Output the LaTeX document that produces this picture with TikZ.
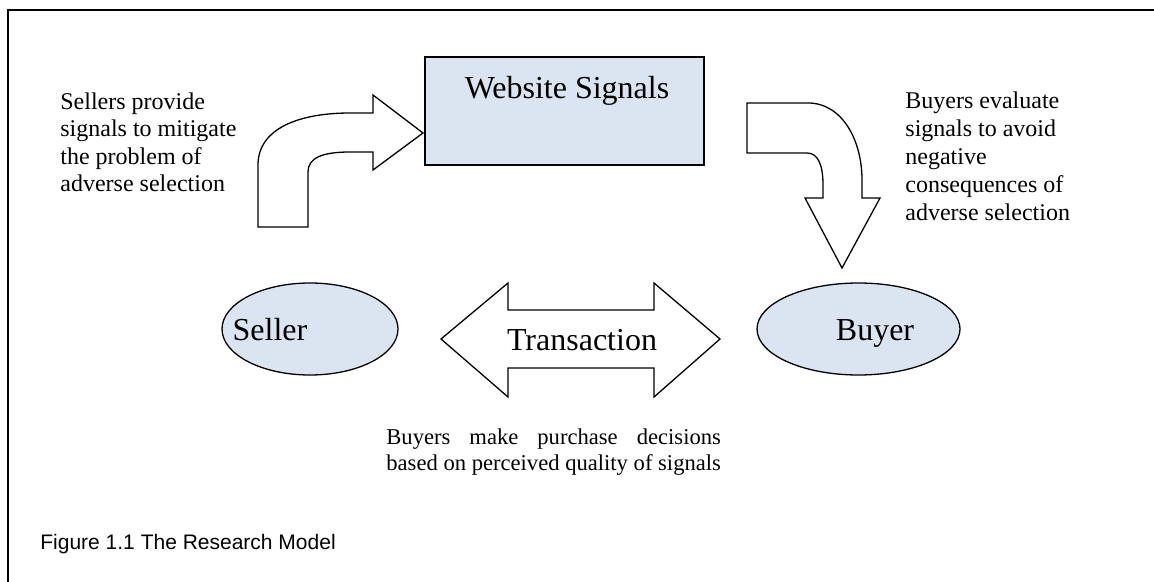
\documentclass[tikz,border=0pt]{standalone}
\usepackage{fontspec}
\setmainfont{Liberation Serif}
\newfontfamily\captionfont{Liberation Sans}
\usetikzlibrary{shapes.geometric}

\definecolor{paleblue}{RGB}{219,229,241}

\newcommand{\smalltext}{\fontsize{12}{13.8}\selectfont}
\newcommand{\bottomtext}{\fontsize{11.3}{13.3}\selectfont}
\newcommand{\bigtext}{\fontsize{16}{18}\selectfont}
\newlength\lastlinew
\settowidth{\lastlinew}{\bottomtext based on perceived quality of signals}

\tikzset{
  outline/.style={draw=black, line width=0.65pt},
  shapefill/.style={outline, fill=paleblue},
  blockarrow/.style={outline, fill=white, line join=miter},
  note/.style={font=\smalltext, inner sep=0pt, align=left},
  title/.style={font=\bigtext, inner sep=0pt},
  frame/.style={draw=black, line width=0.8pt}
}

\begin{document}
\begin{tikzpicture}[x=0.5pt, y=-0.5pt]
  \useasboundingbox (0,0) rectangle (1154,582);

  % open frame: top and left edges only
  \draw[frame] (8,582) -- (8,10) -- (1154,10);

  % website signals box
  \node[shapefill, rectangle, minimum width=139.5pt, minimum height=54pt,
        inner sep=0pt] (signals) at (564.5,111) {};
  \node[title, anchor=base] (signalstext) at (567,99) {Website Signals};

  % seller and buyer ellipses
  \node[shapefill, ellipse, minimum width=88pt, minimum height=46pt,
        inner sep=0pt] (seller) at (310,329) {};
  \node[title, anchor=base] (sellertext) at (270,340) {Seller};
  \node[shapefill, ellipse, minimum width=101.5pt, minimum height=46pt,
        inner sep=0pt] (buyer) at (858.5,329) {};
  \node[title, anchor=base] (buyertext) at (875,340) {Buyer};

  % curved arrow from seller side up to the signals
  \draw[blockarrow]
    (258,227) -- (258,165)
    .. controls (258,128) and (300,113) .. (350,113)
    -- (373,113) -- (373,95) -- (423,133) -- (373,170) -- (373,152)
    -- (350,152)
    .. controls (322,152) and (308,158) .. (308,172)
    -- (308,227) -- cycle;

  % curved arrow from the signals down to the buyer
  \draw[blockarrow]
    (747,103) -- (808,103)
    .. controls (842,103) and (862,140) .. (862,180)
    -- (862,198) -- (880,198) -- (842,268) -- (805,198) -- (823,198)
    -- (823,185)
    .. controls (823,165) and (818,153) .. (807,153)
    -- (747,153) -- cycle;

  % two-headed transaction arrow
  \draw[blockarrow]
    (441,339) -- (508,283) -- (508,310) -- (654,310) -- (654,283)
    -- (720,339) -- (654,397) -- (654,368) -- (508,368) -- (508,397) -- cycle;
  \node[title, anchor=base] (transtext) at (582,350) {Transaction};

  % explanatory notes
  \node[note, anchor=north west] (sellernote) at (60,92)
    {Sellers provide\\signals to mitigate\\the problem of\\adverse selection};
  \node[note, font=\fontsize{12}{14}\selectfont, anchor=north west]
    (buyernote) at (905,91)
    {Buyers evaluate\\signals to avoid\\negative\\consequences of\\adverse selection};
  \node[note, font=\bottomtext, anchor=north west] (decisionnote) at (386,428)
    {\makebox[\lastlinew][s]{Buyers make purchase decisions}\\
     based on perceived quality of signals};

  % caption
  \node[font=\captionfont\fontsize{10.5}{12}\selectfont, inner sep=0pt,
        anchor=base west] (caption) at (40,549)
    {Figure 1.1 The Research Model};
\end{tikzpicture}
\end{document}
